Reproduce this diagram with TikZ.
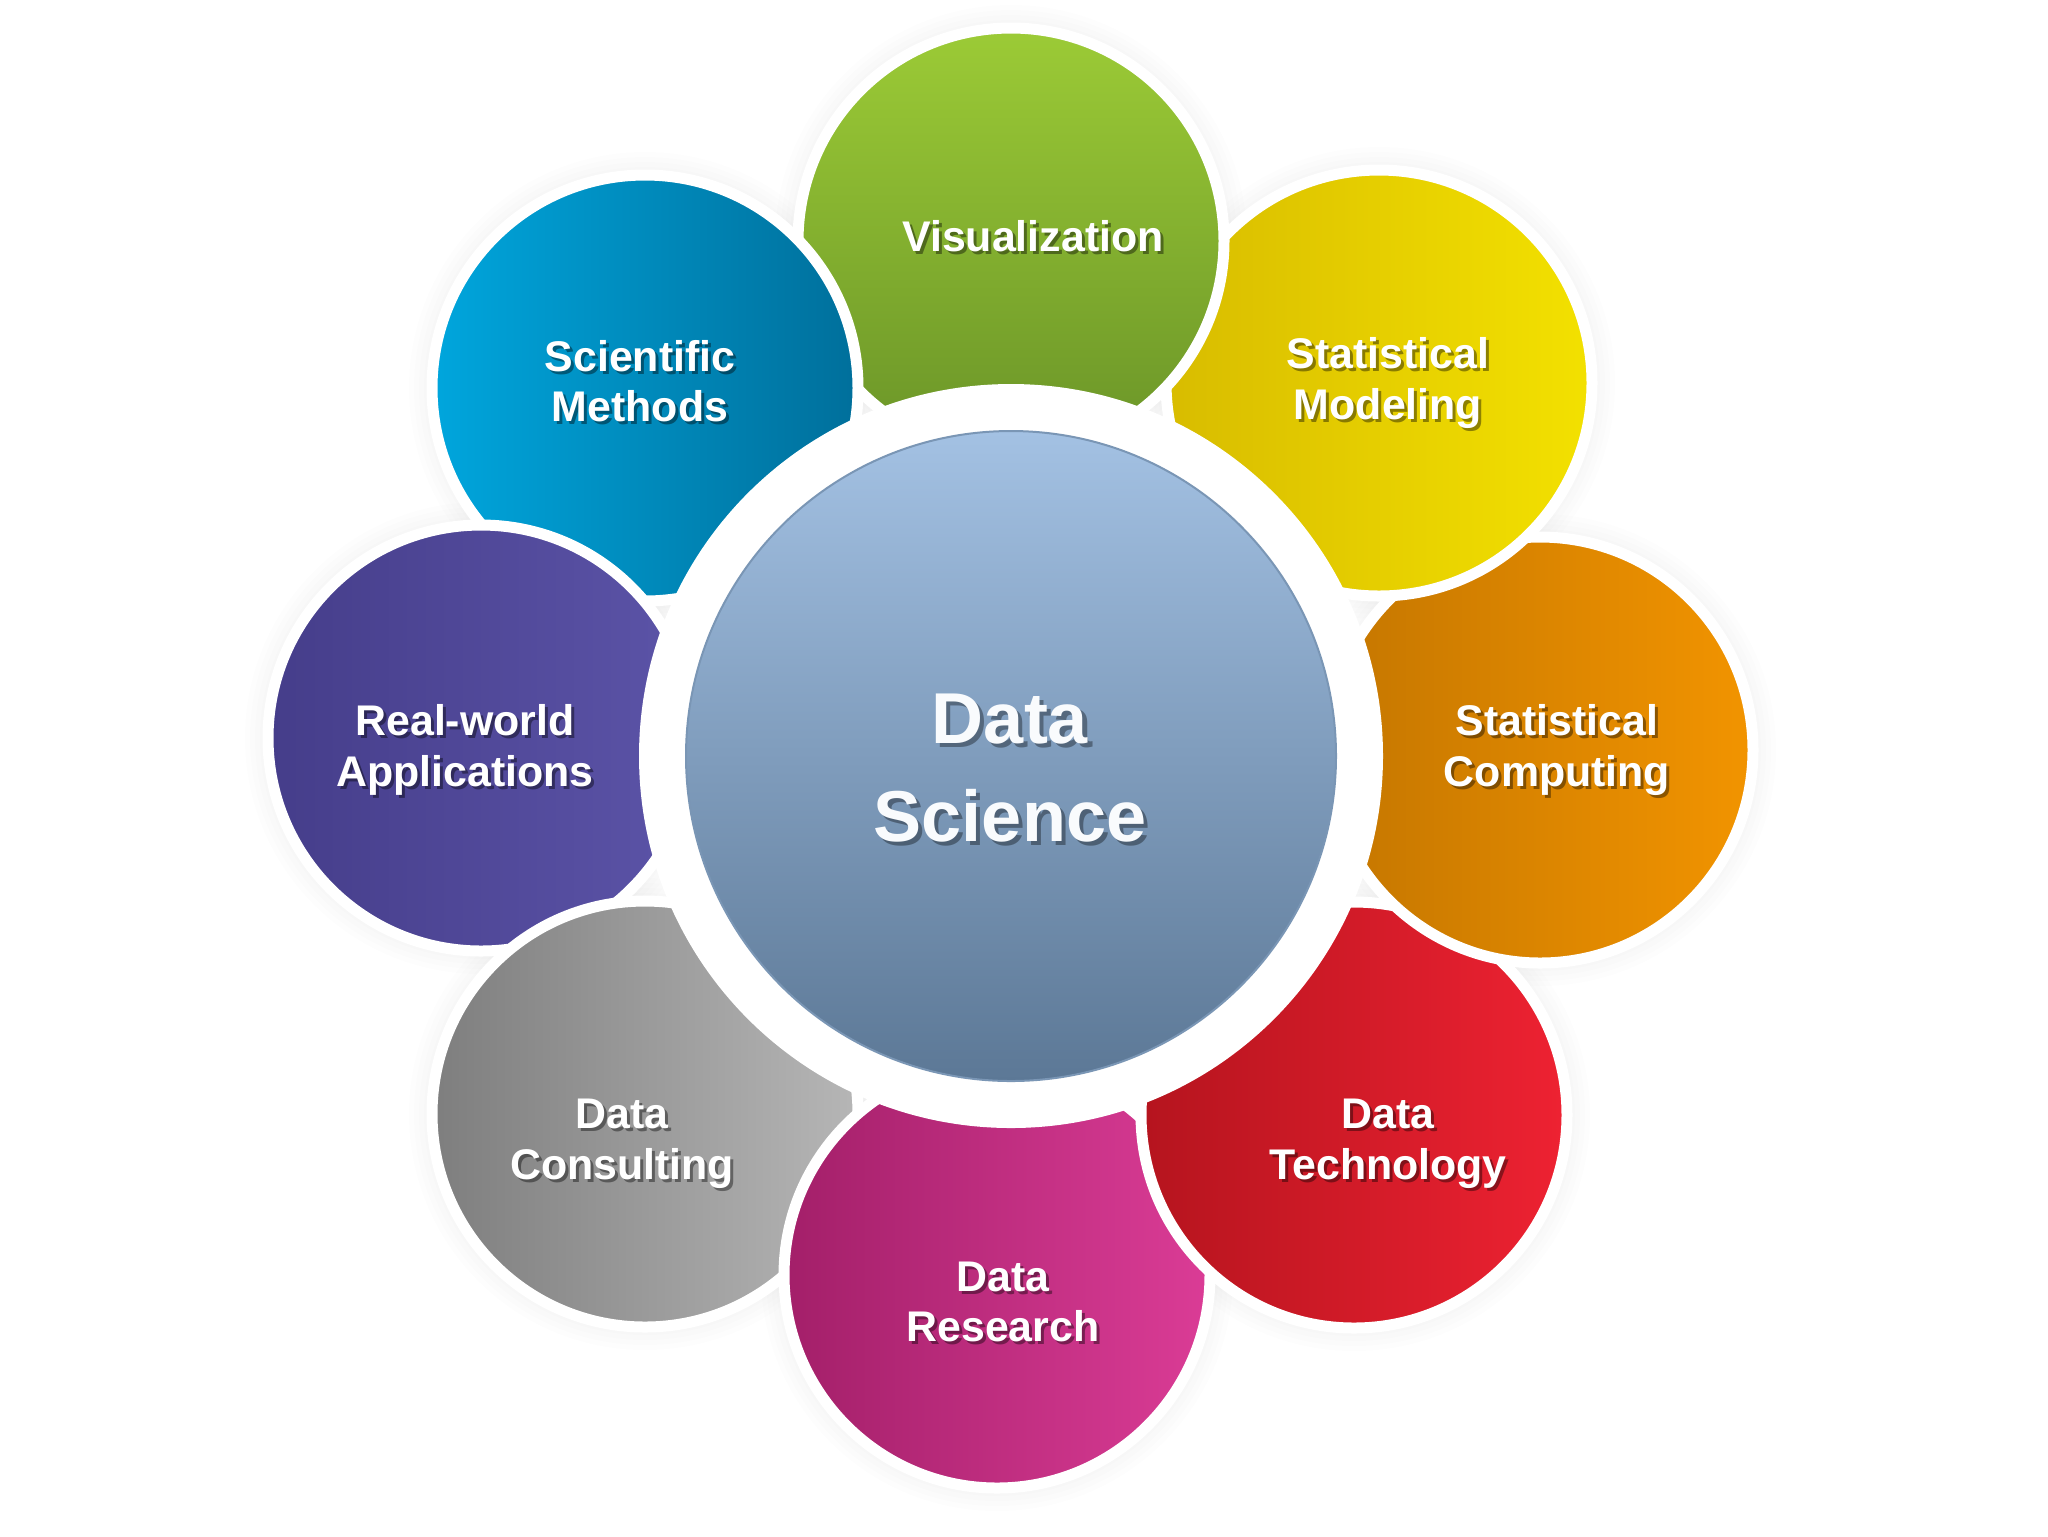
\documentclass[tikz,border=0pt]{standalone}
\usepackage{fontspec}
\setmainfont{Liberation Sans}
\definecolor{vTop}{HTML}{9CCB36}\definecolor{vBot}{HTML}{6A9428}
\definecolor{smL}{HTML}{D8BC00}\definecolor{smR}{HTML}{F3E100}
\definecolor{scL}{HTML}{C47600}\definecolor{scR}{HTML}{F29400}
\definecolor{dtL}{HTML}{B5141E}\definecolor{dtR}{HTML}{EE2232}
\definecolor{drL}{HTML}{A31F69}\definecolor{drR}{HTML}{DB3C96}
\definecolor{dcL}{HTML}{7E7E7E}\definecolor{dcR}{HTML}{B6B6B6}
\definecolor{raL}{HTML}{453D8A}\definecolor{raR}{HTML}{5C54A8}
\definecolor{sciL}{HTML}{00A6DD}\definecolor{sciR}{HTML}{006F9B}
\definecolor{coreTop}{HTML}{A3C1E3}\definecolor{coreBot}{HTML}{5C7896}
\definecolor{coreEdge}{HTML}{7A96B5}
\newcommand\petallabel[3]{%
  \node[lblsh, xshift=0.3mm, yshift=-0.3mm] (#1s) at (#2) {#3};
  \node[lbl] (#1) at (#2) {#3};}
\begin{document}
\begin{tikzpicture}[x=0.1mm,y=-0.1mm,
  petal/.style={circle, inner sep=0pt, minimum size=42.6mm, draw=white, line width=1.1mm},
  lbl/.style={font=\fontsize{12.2}{14.4}\selectfont\bfseries, align=center, text=white, inner sep=0pt},
  lblsh/.style={lbl, text=black, text opacity=0.4},
  biglbl/.style={font=\fontsize{20.5}{28}\selectfont\bfseries, align=center, text=white!93!coreTop, inner sep=0pt},
  biglblsh/.style={biglbl, text=black, text opacity=0.35}]
\useasboundingbox (0,0) rectangle (2048,1536);
\fill[white] (0,0) rectangle (2048,1536);
% centres
\coordinate (cV) at (1011,241);
\coordinate (cSM) at (1379,383);
\coordinate (cSC) at (1540,750);
\coordinate (cDT) at (1354,1115);
\coordinate (cDR) at (997,1275);
\coordinate (cDC) at (645,1114);
\coordinate (cRA) at (481,738);
\coordinate (cSci) at (645,388);
\coordinate (cCore) at (1011,756);
% soft halo
\foreach \c in {cV,cSM,cSC,cDT,cDR,cDC,cRA,cSci}{
  \foreach \r in {216,221,226,231,236}{
    \fill[black, fill opacity=0.008] (\c) circle[radius=\r*0.1mm];
  }
}
% petals (pinwheel order)
\node[petal, left color=sciL, right color=sciR] (sci) at (cSci) {};
\node[petal, left color=raL, right color=raR] (ra) at (cRA) {};
\node[petal, left color=dcL, right color=dcR] (dc) at (cDC) {};
\node[petal, left color=drL, right color=drR] (dr) at (cDR) {};
\node[petal, left color=dtL, right color=dtR] (dt) at (cDT) {};
\node[petal, left color=scL, right color=scR] (sc) at (cSC) {};
\node[petal, left color=smL, right color=smR] (sm) at (cSM) {};
\node[petal, top color=vTop, bottom color=vBot] (v) at (cV) {};
\begin{scope}
  \clip (720,0) rectangle (1100,700);
  \node[petal, left color=sciL, right color=sciR] (sciTop) at (cSci) {};
\end{scope}
% centre
\node[circle, inner sep=0pt, minimum size=74.4mm, fill=white] (ring) at (cCore) {};
\node[circle, inner sep=0pt, minimum size=65mm, top color=coreTop, bottom color=coreBot, draw=coreEdge, line width=0.2mm] (core) at (cCore) {};
% labels
\petallabel{tV}{1033,236}{Visualization}
\petallabel{tSM}{1388,383}{Statistical\\Modeling}
\petallabel{tSC}{1557,750}{Statistical\\Computing}
\petallabel{tDT}{1388,1144}{Data\\Technology}
\petallabel{tDR}{1003,1302}{Data\\Research}
\petallabel{tDC}{622,1144}{Data\\Consulting}
\petallabel{tRA}{465,750}{Real-world\\Applications}
\petallabel{tSci}{640,381}{Scientific\\Methods}
\node[biglblsh, xshift=0.4mm, yshift=-0.4mm] (tCores) at (1010,768) {Data\\Science};
\node[biglbl] (tCore) at (1010,768) {Data\\Science};
\end{tikzpicture}
\end{document}
